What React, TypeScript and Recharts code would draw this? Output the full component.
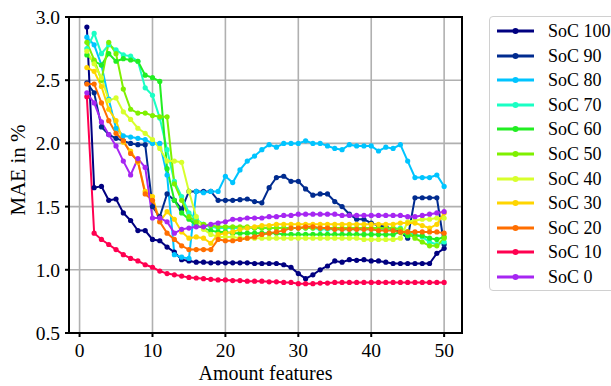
import { CartesianGrid, Line, LineChart, ReferenceArea, XAxis, YAxis } from "recharts";

const FEATURES = Array.from({ length: 50 }, (_, i) => i + 1);

const SOC100 = [2.92, 1.65, 1.66, 1.55, 1.56, 1.45, 1.39, 1.31, 1.31, 1.24, 1.23, 1.18, 1.14, 1.08, 1.07, 1.06, 1.06, 1.055, 1.055, 1.055, 1.055, 1.055, 1.055, 1.05, 1.05, 1.05, 1.05, 1.04, 1.02, 0.97, 0.93, 0.96, 1.0, 1.03, 1.07, 1.06, 1.08, 1.075, 1.08, 1.07, 1.07, 1.06, 1.05, 1.05, 1.05, 1.05, 1.05, 1.05, 1.13, 1.17];
const SOC90 = [2.48, 2.4, 2.13, 2.07, 2.04, 2.02, 2.0, 1.99, 1.99, 1.5, 1.42, 1.6, 1.55, 1.48, 1.62, 1.62, 1.62, 1.62, 1.55, 1.55, 1.55, 1.555, 1.56, 1.54, 1.53, 1.65, 1.73, 1.74, 1.7, 1.7, 1.64, 1.59, 1.6, 1.6, 1.54, 1.5, 1.44, 1.4, 1.4, 1.37, 1.35, 1.34, 1.32, 1.3, 1.25, 1.57, 1.57, 1.57, 1.57, 1.2];
const SOC80 = [2.84, 2.78, 2.62, 2.35, 2.12, 2.06, 2.05, 2.04, 2.03, 2.0, 2.0, 1.75, 1.12, 1.1, 1.09, 1.62, 1.61, 1.62, 1.62, 1.74, 1.69, 1.79, 1.86, 1.9, 1.95, 1.99, 1.97, 2.0, 2.0, 2.0, 2.02, 2.0, 2.0, 1.98, 1.96, 1.95, 1.99, 1.98, 1.98, 1.98, 1.94, 1.97, 1.96, 1.99, 1.86, 1.73, 1.73, 1.73, 1.75, 1.66];
const SOC70 = [2.75, 2.87, 2.71, 2.78, 2.74, 2.7, 2.69, 2.65, 2.44, 2.38, 2.2, 1.95, 1.7, 1.58, 1.45, 1.4, 1.36, 1.34, 1.33, 1.33, 1.33, 1.33, 1.33, 1.33, 1.33, 1.33, 1.33, 1.33, 1.33, 1.33, 1.33, 1.33, 1.32, 1.32, 1.32, 1.32, 1.32, 1.32, 1.32, 1.32, 1.32, 1.32, 1.32, 1.33, 1.3, 1.28, 1.26, 1.22, 1.2, 1.22];
const SOC60 = [2.7, 2.65, 2.62, 2.71, 2.65, 2.67, 2.66, 2.65, 2.54, 2.52, 2.49, 1.8, 1.55, 1.45, 1.4, 1.35, 1.33, 1.31, 1.3, 1.3, 1.29, 1.29, 1.29, 1.29, 1.29, 1.29, 1.29, 1.28, 1.28, 1.28, 1.28, 1.28, 1.28, 1.28, 1.28, 1.28, 1.28, 1.28, 1.28, 1.28, 1.28, 1.28, 1.28, 1.3, 1.27, 1.27, 1.27, 1.25, 1.24, 1.26];
const SOC50 = [2.8, 2.66, 2.5, 2.8, 2.71, 2.43, 2.27, 2.24, 2.24, 2.22, 2.21, 2.21, 1.68, 1.55, 1.42, 1.38, 1.36, 1.35, 1.34, 1.34, 1.34, 1.34, 1.34, 1.33, 1.33, 1.33, 1.33, 1.33, 1.33, 1.33, 1.33, 1.33, 1.33, 1.33, 1.33, 1.33, 1.33, 1.33, 1.33, 1.33, 1.33, 1.33, 1.33, 1.32, 1.3, 1.25, 1.22, 1.19, 1.19, 1.25];
const SOC40 = [2.73, 2.63, 2.52, 2.34, 2.36, 2.25, 2.19, 2.12, 2.08, 2.03, 1.96, 1.86, 1.86, 1.85, 1.62, 1.42, 1.32, 1.28, 1.26, 1.26, 1.26, 1.25, 1.25, 1.25, 1.25, 1.25, 1.25, 1.25, 1.25, 1.25, 1.25, 1.25, 1.25, 1.25, 1.25, 1.25, 1.25, 1.25, 1.24, 1.24, 1.24, 1.24, 1.24, 1.25, 1.38, 1.39, 1.4, 1.4, 1.41, 1.41];
const SOC30 = [2.6, 2.57, 2.45, 2.27, 2.18, 2.01, 1.94, 1.85, 1.62, 1.58, 1.38, 1.46, 1.4, 1.3, 1.25, 1.26, 1.25, 1.21, 1.28, 1.29, 1.3, 1.32, 1.33, 1.34, 1.35, 1.35, 1.36, 1.36, 1.36, 1.36, 1.36, 1.36, 1.36, 1.36, 1.36, 1.36, 1.36, 1.36, 1.36, 1.36, 1.36, 1.36, 1.36, 1.37, 1.37, 1.37, 1.35, 1.33, 1.36, 1.45];
const SOC20 = [2.47, 2.47, 2.32, 2.18, 2.08, 2.02, 1.92, 1.86, 1.6, 1.55, 1.38, 1.29, 1.24, 1.19, 1.16, 1.16, 1.16, 1.16, 1.24, 1.23, 1.23, 1.24, 1.25, 1.26, 1.28, 1.29, 1.3, 1.31, 1.33, 1.33, 1.34, 1.34, 1.33, 1.33, 1.32, 1.32, 1.32, 1.32, 1.32, 1.32, 1.31, 1.31, 1.31, 1.3, 1.3, 1.3, 1.3, 1.3, 1.3, 1.29];
const SOC10 = [2.37, 1.29, 1.24, 1.2, 1.16, 1.12, 1.09, 1.07, 1.04, 1.02, 0.99, 0.97, 0.96, 0.95, 0.94, 0.935, 0.93, 0.925, 0.92, 0.92, 0.915, 0.915, 0.91, 0.91, 0.91, 0.905, 0.905, 0.9, 0.9, 0.89, 0.89, 0.89, 0.895, 0.895, 0.9, 0.9, 0.9, 0.9, 0.9, 0.9, 0.9, 0.9, 0.9, 0.9, 0.9, 0.9, 0.9, 0.9, 0.9, 0.9];
const SOC0 = [2.4, 2.32, 2.17, 2.07, 1.98, 1.86, 1.75, 1.88, 1.81, 1.41, 1.41, 1.38, 1.29, 1.32, 1.33, 1.34, 1.34, 1.36, 1.37, 1.38, 1.4, 1.4, 1.41, 1.41, 1.41, 1.42, 1.42, 1.43, 1.43, 1.44, 1.44, 1.44, 1.44, 1.44, 1.44, 1.43, 1.43, 1.43, 1.43, 1.43, 1.43, 1.43, 1.43, 1.43, 1.42, 1.42, 1.43, 1.44, 1.45, 1.46];

const X_TICKS = [0, 10, 20, 30, 40, 50];
const Y_TICKS = [0.5, 1.0, 1.5, 2.0, 2.5, 3.0];

const SERIES = [
  { key: "soc100", name: "SoC 100", color: "#000080", values: SOC100 },
  { key: "soc90", name: "SoC 90", color: "#002b8f", values: SOC90 },
  { key: "soc80", name: "SoC 80", color: "#00c4ff", values: SOC80 },
  { key: "soc70", name: "SoC 70", color: "#1affc4", values: SOC70 },
  { key: "soc60", name: "SoC 60", color: "#22ee22", values: SOC60 },
  { key: "soc50", name: "SoC 50", color: "#7ff000", values: SOC50 },
  { key: "soc40", name: "SoC 40", color: "#d8ff2c", values: SOC40 },
  { key: "soc30", name: "SoC 30", color: "#ffd500", values: SOC30 },
  { key: "soc20", name: "SoC 20", color: "#ff6e00", values: SOC20 },
  { key: "soc10", name: "SoC 10", color: "#ff0050", values: SOC10 },
  { key: "soc0", name: "SoC 0", color: "#a626f2", values: SOC0 },
];

const data = FEATURES.map((n, i) => {
  const row: Record<string, number> = { n };
  SERIES.forEach((s) => (row[s.key] = s.values[i]));
  return row;
});

const FONT = "'Liberation Serif', 'Times New Roman', serif";

function LegendBox() {
  return (
    <div
      style={{
        position: "absolute",
        left: 489,
        top: 16,
        width: 140,
        height: 273,
        border: "1px solid #d0d0d0",
        borderRadius: 4,
        background: "#fff",
        fontFamily: FONT,
        fontSize: 18,
        color: "#000",
      }}
    >
      {SERIES.map((s, i) => (
        <div key={s.key} style={{ position: "absolute", left: 0, top: 14 + i * 24.6 - 12, height: 24, width: 140 }}>
          <svg width={50} height={24} style={{ position: "absolute", left: 0, top: 0 }}>
            <line x1={7} x2={44} y1={12} y2={12} stroke={s.color} strokeWidth={3} />
            <circle cx={25.5} cy={12} r={3} fill={s.color} />
          </svg>
          <span style={{ position: "absolute", left: 58, top: 1, lineHeight: "22px", whiteSpace: "nowrap" }}>{s.name}</span>
        </div>
      ))}
    </div>
  );
}

export default function App() {
  return (
    <div style={{ position: "absolute", left: 0, top: 0, width: 611, height: 386, overflow: "hidden", background: "#fff" }}>
      <LineChart width={611} height={386} data={data} margin={{ top: 17, right: 149, bottom: 0, left: 0 }}>
        <CartesianGrid stroke="#b0b0b0" strokeWidth={1.6} />
        <XAxis
          dataKey="n"
          type="number"
          domain={[-1.45, 52.45]}
          ticks={X_TICKS}
          allowDataOverflow
          height={53}
          stroke="#000"
          strokeWidth={2}
          tickSize={4}
          tickMargin={6}
          tick={{ fill: "#000", fontSize: 19.5, fontFamily: FONT }}
          label={{
            content: () => (
              <text x={265.5} y={380} textAnchor="middle" fontSize={20} fontFamily={FONT} fill="#000">
                Amount features
              </text>
            ),
          }}
        />
        <YAxis
          type="number"
          domain={[0.5, 3.0]}
          ticks={Y_TICKS}
          allowDataOverflow
          width={69}
          stroke="#000"
          strokeWidth={2}
          tickSize={4}
          tickMargin={5}
          tickFormatter={(v: number) => v.toFixed(1)}
          tick={{ fill: "#000", fontSize: 19.5, fontFamily: FONT }}
          label={{
            content: () => (
              <text x={25} y={170} transform="rotate(-90 25 170)" textAnchor="middle" fontSize={21} fontFamily={FONT} fill="#000">
                MAE in %
              </text>
            ),
          }}
        />
        <ReferenceArea x1={-1.45} x2={52.45} y1={0.5} y2={3.0} fill="none" stroke="#000" strokeWidth={2} ifOverflow="visible" />
        {SERIES.map((s) => (
          <Line
            key={s.key}
            dataKey={s.key}
            name={s.name}
            stroke={s.color}
            strokeWidth={2}
            dot={{ r: 2.6, fill: s.color, stroke: "none" }}
            isAnimationActive={false}
          />
        ))}
      </LineChart>
      <LegendBox />
    </div>
  );
}
